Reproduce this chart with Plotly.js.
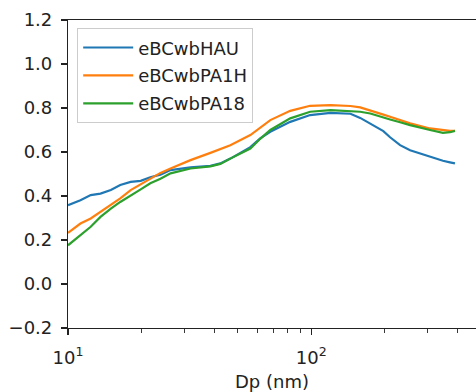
<!DOCTYPE html>
<html>
<head>
<meta charset="utf-8">
<script src="https://cdn.plot.ly/plotly-3.0.1.min.js"></script>
<style>html,body{margin:0;padding:0;overflow:hidden;background:#fff}</style>
</head>
<body>
<div id="chart" style="width:476px;height:392px"></div>
<script>
// Particle diameter (nm)
const dp = [10, 11.25, 12.4, 13.6, 15, 16.4, 18.1, 19.9, 21.8, 24, 26.4, 31.9, 38.5, 42.3, 46.5, 56.2, 61.7, 67.9, 82, 99, 120, 145, 159, 175, 198, 211, 232, 255, 308, 348, 372, 390];
const eBCwbHAU = [0.358, 0.381, 0.404, 0.411, 0.427, 0.450, 0.464, 0.469, 0.485, 0.497, 0.518, 0.530, 0.537, 0.548, 0.570, 0.622, 0.662, 0.692, 0.737, 0.768, 0.778, 0.774, 0.755, 0.730, 0.695, 0.667, 0.631, 0.608, 0.578, 0.560, 0.553, 0.548];
const eBCwbPA1H = [0.232, 0.275, 0.298, 0.328, 0.358, 0.389, 0.427, 0.452, 0.478, 0.505, 0.525, 0.563, 0.596, 0.613, 0.631, 0.677, 0.712, 0.745, 0.787, 0.810, 0.813, 0.809, 0.803, 0.790, 0.770, 0.760, 0.745, 0.730, 0.707, 0.698, 0.696, 0.696];
const eBCwbPA18 = [0.176, 0.222, 0.260, 0.305, 0.343, 0.373, 0.404, 0.430, 0.458, 0.478, 0.503, 0.525, 0.535, 0.546, 0.570, 0.616, 0.660, 0.700, 0.753, 0.783, 0.790, 0.787, 0.783, 0.775, 0.755, 0.748, 0.735, 0.722, 0.700, 0.687, 0.690, 0.696];
const seriesNames = ['eBCwbHAU', 'eBCwbPA1H', 'eBCwbPA18'];
const seriesColors = ['#1f77b4', '#ff7f0e', '#2ca02c'];
const xTickVals = [10, 100];
const xTickText = ['10<sup>1</sup>', '10<sup>2</sup>'];
const xMinorVals = [20, 30, 40, 50, 60, 70, 80, 90, 200, 300, 400];
const yTickVals = [-0.2, 0, 0.2, 0.4, 0.6, 0.8, 1.0, 1.2];

const ys = [eBCwbHAU, eBCwbPA1H, eBCwbPA18];
const traces = ys.map((y, i) => ({
  x: dp, y: y, type: 'scatter', mode: 'lines', name: seriesNames[i],
  legendgroup: 'g' + i,
  line: {color: seriesColors[i], width: 2.2}
}));

const axisColor = '#222';
const fnt = {family: 'DejaVu Sans', size: 18, color: '#222'};
const layout = {
  width: 476, height: 392,
  margin: {l: 67.5, r: 0, t: 20, b: 64.3, pad: 0},
  paper_bgcolor: '#fff', plot_bgcolor: '#fff',
  font: fnt,
  showlegend: true,
  legend: {
    x: 0.0225, y: 0.973, xanchor: 'left', yanchor: 'top',
    bgcolor: 'rgba(255,255,255,0.8)', bordercolor: '#cccccc', borderwidth: 1,
    font: fnt, traceorder: 'grouped', tracegroupgap: 1.5, itemwidth: 50
  },
  xaxis: {
    type: 'log', range: [1, Math.log10(476)],
    showgrid: false, zeroline: false,
    showline: true, linecolor: axisColor, linewidth: 1.1, mirror: true,
    ticks: 'outside', ticklen: 6, tickwidth: 1.1, tickcolor: axisColor,
    tickvals: xTickVals, ticktext: xTickText, tickfont: fnt, ticklabelstandoff: 7,
    minor: {tickvals: xMinorVals, ticks: 'outside', ticklen: 4, tickwidth: 0.9, tickcolor: axisColor, showgrid: false},
    title: {text: 'Dp (nm)', font: fnt, standoff: 9},
    automargin: false
  },
  yaxis: {
    range: [-0.2, 1.2],
    showgrid: false, zeroline: false,
    showline: true, linecolor: axisColor, linewidth: 1.1, mirror: false,
    ticks: 'outside', ticklen: 6, tickwidth: 1.1, tickcolor: axisColor,
    tickvals: yTickVals, tickformat: '.1f', tickfont: fnt, ticklabelstandoff: 5,
    automargin: false
  }
};
Plotly.newPlot('chart', traces, layout, {displayModeBar: false, staticPlot: true});
</script>
</body>
</html>
